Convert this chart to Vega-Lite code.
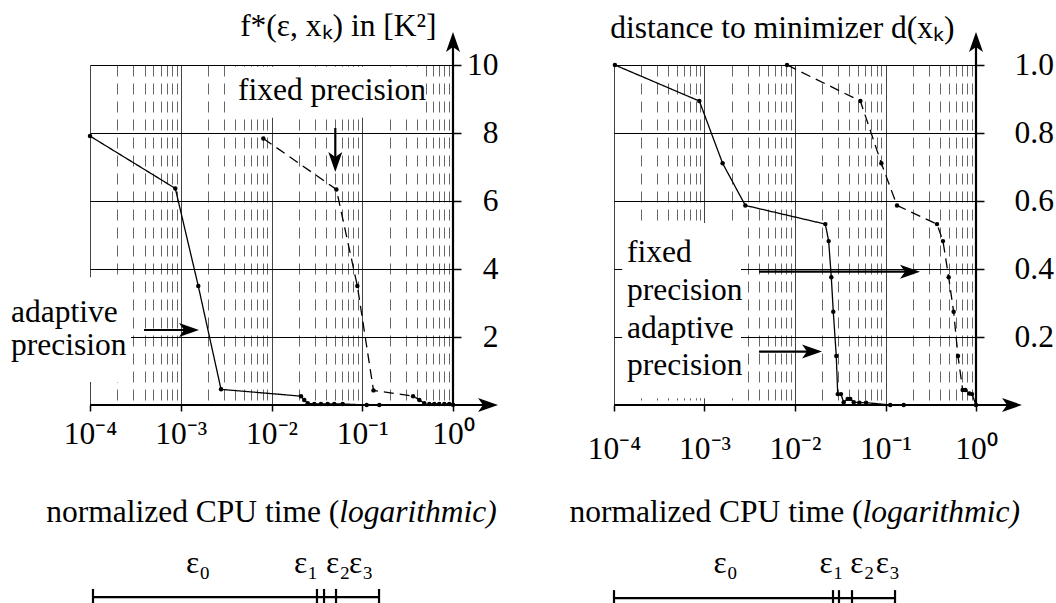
{
  "$schema": "https://vega.github.io/schema/vega-lite/v6.json",
  "background": "white",
  "padding": {"left": 8, "top": 10, "right": 0, "bottom": 0},
  "spacing": 70,
  "config": {
    "view": {"stroke": null},
    "font": "Liberation Serif",
    "text": {"font": "Liberation Serif", "fontSize": 31.5, "color": "black"}
  },
  "datasets": {
    "lseries": [
      {"s": "adaptive", "x": 0.0001, "y": 7.91},
      {"s": "adaptive", "x": 0.000871, "y": 6.37},
      {"s": "adaptive", "x": 0.00156, "y": 3.5},
      {"s": "adaptive", "x": 0.00278, "y": 0.46},
      {"s": "adaptive", "x": 0.02113, "y": 0.26},
      {"s": "adaptive", "x": 0.02296, "y": 0.15},
      {"s": "adaptive", "x": 0.02506, "y": 0.05},
      {"s": "adaptive", "x": 0.02965, "y": 0.03},
      {"s": "adaptive", "x": 0.03508, "y": 0.03},
      {"s": "adaptive", "x": 0.04159, "y": 0.03},
      {"s": "adaptive", "x": 0.0492, "y": 0.03},
      {"s": "adaptive", "x": 0.06081, "y": 0.03},
      {"s": "adaptive", "x": 0.1119, "y": 0},
      {"s": "adaptive", "x": 0.1542, "y": 0},
      {"s": "fixed", "x": 0.008128, "y": 7.84},
      {"s": "fixed", "x": 0.05188, "y": 6.34},
      {"s": "fixed", "x": 0.08831, "y": 3.5},
      {"s": "fixed", "x": 0.133, "y": 0.43},
      {"s": "fixed", "x": 0.3631, "y": 0.26},
      {"s": "fixed", "x": 0.4256, "y": 0.15},
      {"s": "fixed", "x": 0.4831, "y": 0.05},
      {"s": "fixed", "x": 0.5483, "y": 0.03},
      {"s": "fixed", "x": 0.6223, "y": 0.03},
      {"s": "fixed", "x": 0.7063, "y": 0.03},
      {"s": "fixed", "x": 0.8017, "y": 0.03},
      {"s": "fixed", "x": 0.9099, "y": 0.03},
      {"s": "fixed", "x": 1, "y": 0.01}
    ],
    "rseries": [
      {"s": "adaptive", "x": 0.0001023, "y": 1.0},
      {"s": "adaptive", "x": 0.000877, "y": 0.894},
      {"s": "adaptive", "x": 0.001585, "y": 0.711},
      {"s": "adaptive", "x": 0.002825, "y": 0.587},
      {"s": "adaptive", "x": 0.02163, "y": 0.532},
      {"s": "adaptive", "x": 0.02355, "y": 0.482},
      {"s": "adaptive", "x": 0.02518, "y": 0.376},
      {"s": "adaptive", "x": 0.02649, "y": 0.274},
      {"s": "adaptive", "x": 0.02858, "y": 0.144},
      {"s": "adaptive", "x": 0.02965, "y": 0.032},
      {"s": "adaptive", "x": 0.03221, "y": 0.032},
      {"s": "adaptive", "x": 0.03451, "y": 0.008},
      {"s": "adaptive", "x": 0.03819, "y": 0.018},
      {"s": "adaptive", "x": 0.04083, "y": 0.018},
      {"s": "adaptive", "x": 0.04457, "y": 0.008},
      {"s": "adaptive", "x": 0.0514, "y": 0.007},
      {"s": "adaptive", "x": 0.06095, "y": 0.007},
      {"s": "adaptive", "x": 0.113, "y": 0},
      {"s": "adaptive", "x": 0.1589, "y": 0},
      {"s": "fixed", "x": 0.008166, "y": 1.0},
      {"s": "fixed", "x": 0.05272, "y": 0.894},
      {"s": "fixed", "x": 0.08995, "y": 0.711},
      {"s": "fixed", "x": 0.134, "y": 0.587},
      {"s": "fixed", "x": 0.3707, "y": 0.532},
      {"s": "fixed", "x": 0.4315, "y": 0.482},
      {"s": "fixed", "x": 0.4989, "y": 0.376},
      {"s": "fixed", "x": 0.5662, "y": 0.274},
      {"s": "fixed", "x": 0.6324, "y": 0.144},
      {"s": "fixed", "x": 0.7129, "y": 0.044},
      {"s": "fixed", "x": 0.7621, "y": 0.044},
      {"s": "fixed", "x": 0.8433, "y": 0.034},
      {"s": "fixed", "x": 0.9036, "y": 0.032},
      {"s": "fixed", "x": 1, "y": 0}
    ],
    "lbox": [
      {"x": 0.003581, "x2": 0.4909, "y": 9.95, "y2": 8.45},
      {"x": 0.00001279, "x2": 0.0002831, "y": 3.76, "y2": 0.68}
    ],
    "rbox": [
      {"x": 0.000123, "x2": 0.002529, "y": 0.535, "y2": 0.02}
    ],
    "lseg": [
      {"x": 0.0001, "x2": 2.431, "y": 0, "y2": 0},
      {"x": 1, "x2": 1, "y": 0, "y2": 10.676},
      {"x": 0.05047, "x2": 0.05047, "y": 8.147, "y2": 7.147},
      {"x": 0.0003936, "x2": 0.001233, "y": 2.206, "y2": 2.206},
      {"x": 0.0001079, "x2": 0.1531, "y": -5.65, "y2": -5.65},
      {"x": 0.0001079, "x2": 0.0001079, "y": -5.41, "y2": -5.89},
      {"x": 0.0317, "x2": 0.0317, "y": -5.41, "y2": -5.89},
      {"x": 0.03793, "x2": 0.03793, "y": -5.41, "y2": -5.89},
      {"x": 0.0514, "x2": 0.0514, "y": -5.41, "y2": -5.89},
      {"x": 0.1531, "x2": 0.1531, "y": -5.41, "y2": -5.89}
    ],
    "rseg": [
      {"x": 0.0001, "x2": 2.5, "y": 0, "y2": 0},
      {"x": 1, "x2": 1, "y": 0, "y2": 1.0676},
      {"x": 0.004, "x2": 0.1866, "y": 0.392, "y2": 0.392},
      {"x": 0.004, "x2": 0.01542, "y": 0.157, "y2": 0.157},
      {"x": 0.0001, "x2": 0.1274, "y": -0.568, "y2": -0.568},
      {"x": 0.0001, "x2": 0.0001, "y": -0.5445, "y2": -0.5915},
      {"x": 0.0263, "x2": 0.0263, "y": -0.5445, "y2": -0.5915},
      {"x": 0.03062, "x2": 0.03062, "y": -0.5445, "y2": -0.5915},
      {"x": 0.04266, "x2": 0.04266, "y": -0.5445, "y2": -0.5915},
      {"x": 0.1274, "x2": 0.1274, "y": -0.5445, "y2": -0.5915}
    ],
    "larrow": [
      {"d": "right", "x": 2.431, "y": 0},
      {"d": "up", "x": 1, "y": 10.676},
      {"d": "down", "x": 0.05047, "y": 7.147},
      {"d": "right", "x": 0.001233, "y": 2.206}
    ],
    "rarrow": [
      {"d": "right", "x": 2.5, "y": 0},
      {"d": "up", "x": 1, "y": 1.0676},
      {"d": "right", "x": 0.1866, "y": 0.392},
      {"d": "right", "x": 0.01542, "y": 0.157}
    ],
    "ltext": [
      {"t": "fixed precision", "x": 0.004276, "y": 8.97},
      {"t": "adaptive", "x": 0.00001347, "y": 2.44},
      {"t": "precision", "x": 0.00001347, "y": 1.47},
      {"t": "ε₀", "x": 0.001143, "y": -4.94},
      {"t": "ε₁", "x": 0.0177, "y": -4.94},
      {"t": "ε₂", "x": 0.0399, "y": -4.94},
      {"t": "ε₃", "x": 0.07145, "y": -4.94}
    ],
    "rtext": [
      {"t": "fixed", "x": 0.0001393, "y": 0.4206},
      {"t": "precision", "x": 0.0001393, "y": 0.3088},
      {"t": "adaptive", "x": 0.0001393, "y": 0.197},
      {"t": "precision", "x": 0.0001393, "y": 0.0882},
      {"t": "ε₀", "x": 0.001256, "y": -0.494},
      {"t": "ε₁", "x": 0.01862, "y": -0.494},
      {"t": "ε₂", "x": 0.04074, "y": -0.494},
      {"t": "ε₃", "x": 0.07816, "y": -0.494}
    ],
    "ltitle": [{"a": "normalized CPU time (", "b": "logarithmic)", "x": 0.05585, "y": -3.441}],
    "rtitle": [{"a": "normalized CPU time (", "b": "logarithmic)", "x": 0.05585, "y": -0.3441}]
  },
  "hconcat": [
    {
      "width": 363,
      "height": 340,
      "encoding": {
        "x": {
          "field": "x", "type": "quantitative",
          "scale": {"type": "log", "domain": [0.0001, 1], "nice": false},
          "axis": {
            "values": [0.0001,0.0002,0.0003,0.0004,0.0005,0.0006,0.0007,0.0008,0.0009,0.001,0.002,0.003,0.004,0.005,0.006,0.007,0.008,0.009,0.01,0.02,0.03,0.04,0.05,0.06,0.07,0.08,0.09,0.1,0.2,0.3,0.4,0.5,0.6,0.7,0.8,0.9,1],
            "labelExpr": "datum.value == 0.0001 ? '10⁻⁴' : datum.value == 0.001 ? '10⁻³' : datum.value == 0.01 ? '10⁻²' : datum.value == 0.1 ? '10⁻¹' : datum.value == 1 ? '10⁰' : ''",
            "labelOverlap": false, "labelFlush": false, "labelBound": false,
            "labelFont": "Liberation Serif", "labelFontSize": 31.5, "labelColor": "black",
            "labelPadding": 7, "tickSize": 6, "tickWidth": 1.5, "tickColor": "black",
            "tickOpacity": {"condition": {"test": "indexof([0.0001,0.001,0.01,0.1,1], datum.value) < 0", "value": 0}, "value": 1},
            "grid": true, "gridWidth": 1, "gridOpacity": 1,
            "gridDash": {"condition": {"test": "indexof([0.0001,0.001,0.01,0.1,1], datum.value) < 0", "value": [11, 7]}, "value": []},
            "gridColor": {"condition": {"test": "indexof([0.0001,0.001,0.01,0.1,1], datum.value) < 0", "value": "#666666"}, "value": "#444444"},
            "domain": false, "title": null
          }
        },
        "y": {
          "field": "y", "type": "quantitative",
          "scale": {"domain": [0, 10], "nice": false, "zero": false},
          "axis": {
            "orient": "right", "values": [2, 4, 6, 8, 10],
            "grid": true, "gridColor": "black", "gridWidth": 1, "gridOpacity": 1,
            "domain": false, "tickSize": 8, "tickColor": "black", "tickWidth": 1.5,
            "labelAlign": "right", "labelBaseline": "middle", "labelPadding": 37,
            "labelFont": "Liberation Serif", "labelFontSize": 31.5, "labelColor": "black",
            "labelOverlap": false, "labelFlush": false,
            "title": "f*(ε, xₖ) in [K²]", "titleAngle": 0, "titleAlign": "right", "titleBaseline": "alphabetic",
            "titleX": -17, "titleY": -30, "titleFont": "Liberation Serif", "titleFontSize": 31.5,
            "titleFontWeight": "normal", "titleColor": "black"
          }
        }
      },
      "layer": [
        {"data": {"name": "lbox"}, "mark": {"type": "rect", "color": "white", "opacity": 1}, "encoding": {"x2": {"field": "x2"}, "y2": {"field": "y2"}}},
        {"data": {"name": "lseries"}, "mark": {"type": "line", "color": "black", "strokeWidth": 1.3},
          "encoding": {"strokeDash": {"field": "s", "type": "nominal", "scale": {"domain": ["adaptive", "fixed"], "range": [[1, 0], [10, 6]]}, "legend": null}}},
        {"data": {"name": "lseries"}, "mark": {"type": "point", "filled": true, "color": "black", "size": 20, "opacity": 1}},
        {"data": {"name": "lseg"}, "mark": {"type": "rule", "color": "black", "strokeWidth": 2.2}, "encoding": {"x2": {"field": "x2"}, "y2": {"field": "y2"}}},
        {"data": {"name": "larrow"}, "transform": [{"filter": "datum.d == 'right'"}], "mark": {"type": "point", "shape": "M1,0L-1,-0.7L-0.5,0L-1,0.7Z", "size": 400, "filled": true, "color": "black", "opacity": 1, "angle": 0}},
        {"data": {"name": "larrow"}, "transform": [{"filter": "datum.d == 'up'"}], "mark": {"type": "point", "shape": "M1,0L-1,-0.7L-0.5,0L-1,0.7Z", "size": 400, "filled": true, "color": "black", "opacity": 1, "angle": 270}},
        {"data": {"name": "larrow"}, "transform": [{"filter": "datum.d == 'down'"}], "mark": {"type": "point", "shape": "M1,0L-1,-0.7L-0.5,0L-1,0.7Z", "size": 400, "filled": true, "color": "black", "opacity": 1, "angle": 90}},
        {"data": {"name": "ltext"}, "mark": {"type": "text", "align": "left", "baseline": "alphabetic"}, "encoding": {"text": {"field": "t"}}},
        {"data": {"name": "ltitle"}, "mark": {"type": "text", "align": "right", "baseline": "alphabetic"}, "encoding": {"text": {"field": "a"}}},
        {"data": {"name": "ltitle"}, "mark": {"type": "text", "align": "left", "baseline": "alphabetic", "fontStyle": "italic"}, "encoding": {"text": {"field": "b"}}}
      ]
    },
    {
      "width": 362,
      "height": 340,
      "encoding": {
        "x": {
          "field": "x", "type": "quantitative",
          "scale": {"type": "log", "domain": [0.0001, 1], "nice": false},
          "axis": {
            "values": [0.0001,0.0002,0.0003,0.0004,0.0005,0.0006,0.0007,0.0008,0.0009,0.001,0.002,0.003,0.004,0.005,0.006,0.007,0.008,0.009,0.01,0.02,0.03,0.04,0.05,0.06,0.07,0.08,0.09,0.1,0.2,0.3,0.4,0.5,0.6,0.7,0.8,0.9,1],
            "labelExpr": "datum.value == 0.0001 ? '10⁻⁴' : datum.value == 0.001 ? '10⁻³' : datum.value == 0.01 ? '10⁻²' : datum.value == 0.1 ? '10⁻¹' : datum.value == 1 ? '10⁰' : ''",
            "labelOverlap": false, "labelFlush": false, "labelBound": false,
            "labelFont": "Liberation Serif", "labelFontSize": 31.5, "labelColor": "black",
            "labelPadding": 22, "tickSize": 6, "tickWidth": 1.5, "tickColor": "black",
            "tickOpacity": {"condition": {"test": "indexof([0.0001,0.001,0.01,0.1,1], datum.value) < 0", "value": 0}, "value": 1},
            "grid": true, "gridWidth": 1, "gridOpacity": 1,
            "gridDash": {"condition": {"test": "indexof([0.0001,0.001,0.01,0.1,1], datum.value) < 0", "value": [11, 7]}, "value": []},
            "gridColor": {"condition": {"test": "indexof([0.0001,0.001,0.01,0.1,1], datum.value) < 0", "value": "#666666"}, "value": "#444444"},
            "domain": false, "title": null
          }
        },
        "y": {
          "field": "y", "type": "quantitative",
          "scale": {"domain": [0, 1], "nice": false, "zero": false},
          "axis": {
            "orient": "right", "values": [0.2, 0.4, 0.6, 0.8, 1.0], "format": ".1f",
            "grid": true, "gridColor": "black", "gridWidth": 1, "gridOpacity": 1,
            "domain": false, "tickSize": 8, "tickColor": "black", "tickWidth": 1.5,
            "labelAlign": "left", "labelBaseline": "middle", "labelPadding": 30,
            "labelFont": "Liberation Serif", "labelFontSize": 31.5, "labelColor": "black",
            "labelOverlap": false, "labelFlush": false,
            "title": "distance to minimizer d(xₖ)", "titleAngle": 0, "titleAlign": "right", "titleBaseline": "alphabetic",
            "titleX": -22, "titleY": -28, "titleFont": "Liberation Serif", "titleFontSize": 31.5,
            "titleFontWeight": "normal", "titleColor": "black"
          }
        }
      },
      "layer": [
        {"data": {"name": "rbox"}, "mark": {"type": "rect", "color": "white", "opacity": 1}, "encoding": {"x2": {"field": "x2"}, "y2": {"field": "y2"}}},
        {"data": {"name": "rseries"}, "mark": {"type": "line", "color": "black", "strokeWidth": 1.3},
          "encoding": {"strokeDash": {"field": "s", "type": "nominal", "scale": {"domain": ["adaptive", "fixed"], "range": [[1, 0], [10, 6]]}, "legend": null}}},
        {"data": {"name": "rseries"}, "mark": {"type": "point", "filled": true, "color": "black", "size": 20, "opacity": 1}},
        {"data": {"name": "rseg"}, "mark": {"type": "rule", "color": "black", "strokeWidth": 2.2}, "encoding": {"x2": {"field": "x2"}, "y2": {"field": "y2"}}},
        {"data": {"name": "rarrow"}, "transform": [{"filter": "datum.d == 'right'"}], "mark": {"type": "point", "shape": "M1,0L-1,-0.7L-0.5,0L-1,0.7Z", "size": 400, "filled": true, "color": "black", "opacity": 1, "angle": 0}},
        {"data": {"name": "rarrow"}, "transform": [{"filter": "datum.d == 'up'"}], "mark": {"type": "point", "shape": "M1,0L-1,-0.7L-0.5,0L-1,0.7Z", "size": 400, "filled": true, "color": "black", "opacity": 1, "angle": 270}},
        {"data": {"name": "rtext"}, "mark": {"type": "text", "align": "left", "baseline": "alphabetic"}, "encoding": {"text": {"field": "t"}}},
        {"data": {"name": "rtitle"}, "mark": {"type": "text", "align": "right", "baseline": "alphabetic"}, "encoding": {"text": {"field": "a"}}},
        {"data": {"name": "rtitle"}, "mark": {"type": "text", "align": "left", "baseline": "alphabetic", "fontStyle": "italic"}, "encoding": {"text": {"field": "b"}}}
      ]
    }
  ]
}
